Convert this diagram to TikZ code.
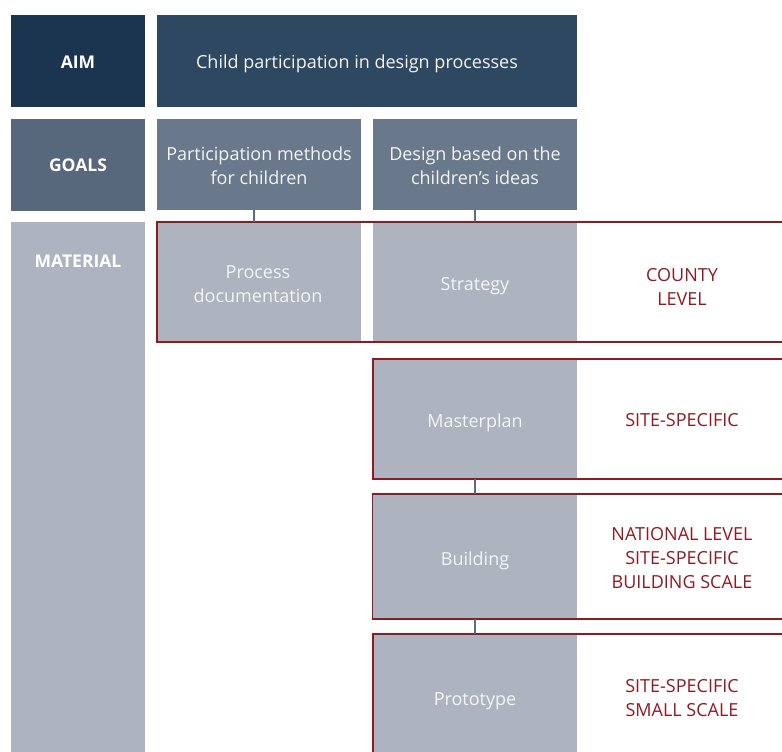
\documentclass[tikz,border=0pt]{standalone}
\usepackage{fontspec}
\setmainfont{Open Sans}
\definecolor{aimlab}{HTML}{1B3551}
\definecolor{aimbox}{HTML}{2F4862}
\definecolor{goallab}{HTML}{57677C}
\definecolor{goalbox}{HTML}{69788B}
\definecolor{matbox}{HTML}{ADB4BF}
\definecolor{redc}{HTML}{8C1C22}
\definecolor{conn}{HTML}{5B6B82}
\definecolor{lighttxt}{HTML}{F3F5F8}
\begin{document}
\begin{tikzpicture}[x=1pt,y=-1pt,
  box/.style={anchor=north west, inner sep=0pt, outer sep=0pt},
  txt/.style={align=center, inner sep=0pt, text=lighttxt, font=\fontsize{18}{24}\selectfont},
  lab/.style={align=center, inner sep=0pt, text=white, font=\fontsize{17.5}{24}\selectfont\bfseries},
  redtxt/.style={align=center, text=redc, font=\fontsize{18}{24}\selectfont, inner sep=0pt},
  frame/.style={draw=redc, line width=1.6pt},
  link/.style={draw=conn, line width=1.5pt}]
\useasboundingbox (0,0) rectangle (782,752);
% label column
\node[box, fill=aimlab, minimum width=134pt, minimum height=92pt] (aim) at (11,15) {};
\node[box, fill=goallab, minimum width=134pt, minimum height=92pt] (goals) at (11,119) {};
\node[box, fill=matbox, minimum width=134pt, minimum height=540pt] (mat) at (11,222) {};
\node[lab] (aiml) at (78,62) {AIM};
\node[lab] (goalsl) at (78,165) {GOALS};
\node[lab] (matl) at (78,261) {MATERIAL};
% aim
\node[box, fill=aimbox, minimum width=420pt, minimum height=92pt] (aimc) at (157,15) {};
\node[txt] (aimt) at (357,64) {Child participation in design processes};
% goals
\node[box, fill=goalbox, minimum width=204pt, minimum height=91pt] (g1) at (157,119) {};
\node[box, fill=goalbox, minimum width=204pt, minimum height=91pt] (g2) at (373,119) {};
\node[txt] (g1t) at (259,166) {Participation methods\\for children};
\node[txt] (g2t) at (475,166) {Design based on the\\children’s ideas};
% material boxes
\node[box, fill=matbox, minimum width=204pt, minimum height=120pt] (pd) at (157,222) {};
\node[box, fill=matbox, minimum width=204pt, minimum height=120pt] (st) at (373,222) {};
\node[box, fill=matbox, minimum width=204pt, minimum height=120pt] (mp) at (373,359) {};
\node[box, fill=matbox, minimum width=204pt, minimum height=125pt] (bd) at (373,494) {};
\node[box, fill=matbox, minimum width=204pt, minimum height=130pt] (pt) at (373,634) {};
\node[txt] (pdt) at (258,284) {Process\\documentation};
\node[txt] (stt) at (475,286) {Strategy};
\node[txt] (mpt) at (475,423) {Masterplan};
\node[txt] (bdt) at (475,561) {Building};
\node[txt] (ptt) at (475,701) {Prototype};
% red frames
\draw[frame] (157,222) rectangle (800,342);
\draw[frame] (373,359) rectangle (800,479);
\draw[frame] (372.5,494) rectangle (800,619);
\draw[frame] (373,634) rectangle (800,780);
% red texts
\node[redtxt] (t1) at (682,287) {COUNTY\\LEVEL};
\node[redtxt] (t2) at (682,420) {SITE-SPECIFIC};
\node[redtxt] (t3) at (682,558) {NATIONAL LEVEL\\SITE-SPECIFIC\\BUILDING SCALE};
\node[redtxt] (t4) at (682,698) {SITE-SPECIFIC\\SMALL SCALE};
% connectors
\draw[link] ([xshift=-5pt]g1.south) -- ([xshift=-5pt]pd.north);
\draw[link] (g2.south) -- (st.north);
\draw[link] (mp.south) -- (bd.north);
\draw[link] (bd.south) -- (pt.north);
\end{tikzpicture}
\end{document}
